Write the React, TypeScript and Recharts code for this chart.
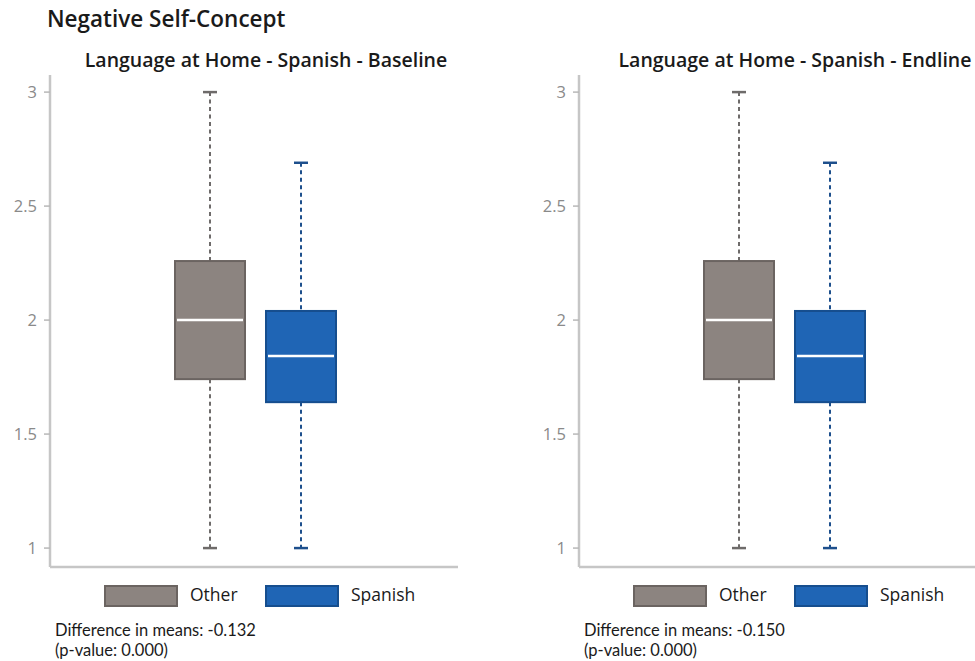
import React from 'react';
import { ComposedChart, Bar, XAxis, YAxis } from 'recharts';

const groups = ['Other', 'Spanish'];

const baselineMin = [1, 1];
const baselineQ1 = [1.741, 1.64];
const baselineMedian = [2.0, 1.842];
const baselineQ3 = [2.259, 2.04];
const baselineMax = [3, 2.69];

const endlineMin = [1, 1];
const endlineQ1 = [1.741, 1.64];
const endlineMedian = [2.0, 1.842];
const endlineQ3 = [2.259, 2.04];
const endlineMax = [3, 2.69];

const yTicks = [1, 1.5, 2, 2.5, 3];
const yDomain = [0.917, 3.075];

const mainTitle = 'Negative Self-Concept';
const panelTitles = ['Language at Home - Spanish - Baseline', 'Language at Home - Spanish - Endline'];
const diffs = ['-0.132', '-0.150'];
const pValues = ['0.000', '0.000'];

const COLORS: Record<string, { fill: string; stroke: string; whisker: string }> = {
  Other: { fill: '#8c8480', stroke: '#6b6461', whisker: '#6e6b6a' },
  Spanish: { fill: '#1f65b5', stroke: '#164e8e', whisker: '#1d4f8c' },
};

const FONT = '"Open Sans", "Noto Sans", sans-serif';
const NOTE_FONT = 'Lato, "Open Sans", sans-serif';

function buildRows(mins: number[], q1: number[], med: number[], q3: number[], maxs: number[]) {
  return groups.map((name, i) => ({
    name,
    range: [mins[i], maxs[i]],
    min: mins[i],
    q1: q1[i],
    median: med[i],
    q3: q3[i],
    max: maxs[i],
  }));
}

const baselineRows = buildRows(baselineMin, baselineQ1, baselineMedian, baselineQ3, baselineMax);
const endlineRows = buildRows(endlineMin, endlineQ1, endlineMedian, endlineQ3, endlineMax);

const BoxShape = (props: any) => {
  const { x, y, width, height, payload } = props;
  if (!payload) return null;
  const top = Math.min(y, y + height);
  const bottom = Math.max(y, y + height);
  const span = payload.max - payload.min;
  const py = (v: number) => bottom - ((v - payload.min) / span) * (bottom - top);
  const cx = x + width / 2;
  const c = COLORS[payload.name];
  const yQ1 = py(payload.q1);
  const yQ3 = py(payload.q3);
  const yMed = py(payload.median);
  const capHalf = 7;
  return (
    <g>
      <line x1={cx} x2={cx} y1={top} y2={yQ3} stroke={c.whisker} strokeWidth={2} strokeDasharray="4 3.5" />
      <line x1={cx} x2={cx} y1={yQ1} y2={bottom} stroke={c.whisker} strokeWidth={2} strokeDasharray="4 3.5" />
      <line x1={cx - capHalf} x2={cx + capHalf} y1={top} y2={top} stroke={c.whisker} strokeWidth={2.5} />
      <line x1={cx - capHalf} x2={cx + capHalf} y1={bottom} y2={bottom} stroke={c.whisker} strokeWidth={2.5} />
      <rect x={x} y={yQ3} width={width} height={yQ1 - yQ3} fill={c.fill} stroke={c.stroke} strokeWidth={2} />
      <line x1={x + 2} x2={x + width - 2} y1={yMed} y2={yMed} stroke="#ffffff" strokeWidth={2.5} />
    </g>
  );
};

const Panel = ({ rows, title, diff, p, left }: any) => (
  <div style={{ position: 'absolute', left, top: 0, width: 530, height: 661 }}>
    <div
      style={{
        position: 'absolute',
        left: 266 - 250,
        width: 500,
        top: 46,
        textAlign: 'center',
        fontFamily: FONT,
        fontWeight: 600,
        fontSize: 19.5,
        color: '#1a1a1a',
        whiteSpace: 'nowrap',
      }}
    >
      {title}
    </div>
    <div style={{ position: 'absolute', left: 0, top: 0 }}>
      <ComposedChart
        width={530}
        height={600}
        data={rows}
        margin={{ top: 75, right: 72, bottom: 32, left: 0 }}
        barSize={70}
      >
        <XAxis
          dataKey="name"
          type="category"
          height={1}
          tick={false}
          tickLine={false}
          axisLine={{ stroke: '#c6c6c6', strokeWidth: 2.5 }}
          padding={{ left: 114, right: 112 }}
        />
        <YAxis
          type="number"
          domain={yDomain}
          ticks={yTicks}
          allowDataOverflow
          width={50}
          axisLine={{ stroke: '#c6c6c6', strokeWidth: 2.5 }}
          tickLine={{ stroke: '#b8b8b8', strokeWidth: 1.5 }}
          tickSize={6}
          tickMargin={7}
          tick={{ fill: '#8a8a8a', fontSize: 16.5, fontFamily: FONT }}
        />
        <Bar dataKey="range" isAnimationActive={false} shape={BoxShape} />
      </ComposedChart>
    </div>
    {groups.map((g, i) => (
      <div key={g}>
        <div
          style={{
            position: 'absolute',
            left: 104 + i * 161,
            top: 585,
            width: 70,
            height: 18,
            background: COLORS[g].fill,
            border: `2px solid ${COLORS[g].stroke}`,
            boxSizing: 'content-box',
          }}
        />
        <div
          style={{
            position: 'absolute',
            left: 190 + i * 161,
            top: 582,
            fontFamily: FONT,
            fontSize: 17.5,
            color: '#1a1a1a',
          }}
        >
          {g}
        </div>
      </div>
    ))}
    <div
      style={{
        position: 'absolute',
        left: 55,
        top: 620,
        fontFamily: NOTE_FONT,
        fontSize: 16.5,
        lineHeight: '20px',
        color: '#1a1a1a',
        whiteSpace: 'nowrap',
      }}
    >
      Difference in means: {diff}
    </div>
    <div
      style={{
        position: 'absolute',
        left: 55,
        top: 640,
        fontFamily: NOTE_FONT,
        fontSize: 16.5,
        lineHeight: '20px',
        color: '#1a1a1a',
        whiteSpace: 'nowrap',
      }}
    >
      (p-value: {p})
    </div>
  </div>
);

export default function App() {
  return (
    <div
      style={{
        position: 'absolute',
        left: 0,
        top: 0,
        width: 975,
        height: 661,
        overflow: 'hidden',
        background: '#ffffff',
      }}
    >
      <div
        style={{
          position: 'absolute',
          left: 47,
          top: 3,
          fontFamily: FONT,
          fontWeight: 600,
          fontSize: 22.5,
          color: '#1a1a1a',
        }}
      >
        {mainTitle}
      </div>
      <Panel rows={baselineRows} title={panelTitles[0]} diff={diffs[0]} p={pValues[0]} left={0} />
      <Panel rows={endlineRows} title={panelTitles[1]} diff={diffs[1]} p={pValues[1]} left={529} />
    </div>
  );
}
